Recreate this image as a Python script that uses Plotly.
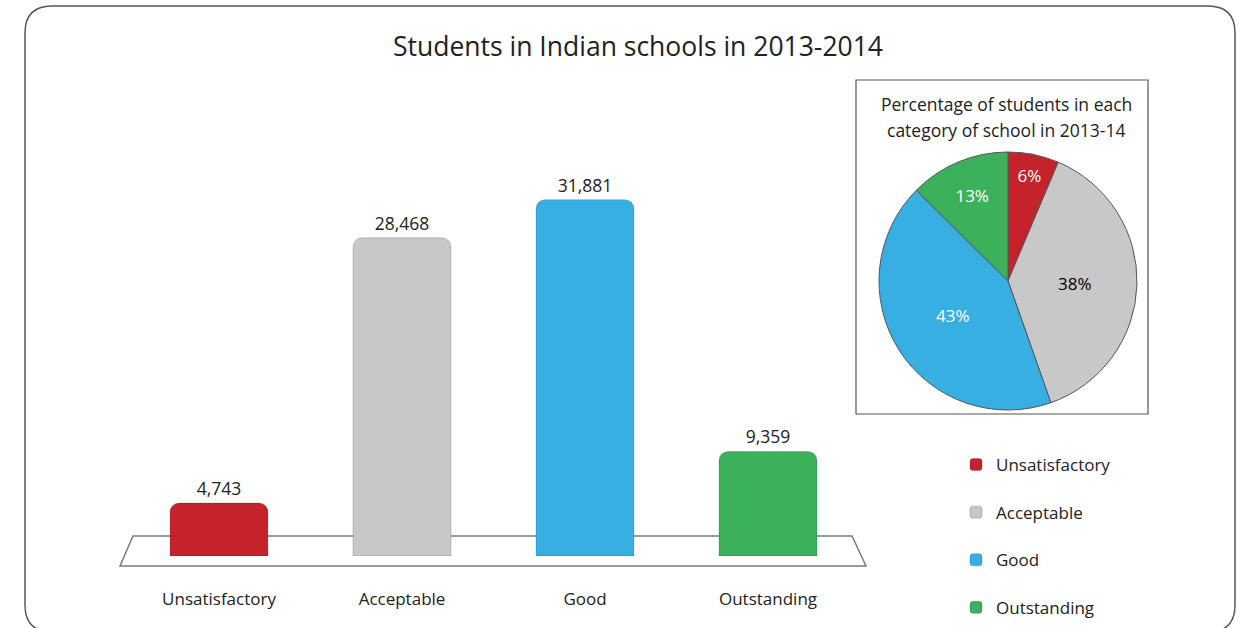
import plotly.graph_objects as go

categories = ["Unsatisfactory", "Acceptable", "Good", "Outstanding"]
students = [4743, 28468, 31881, 9359]
colors = ["#c4232b", "#c8c8c8", "#37afe3", "#3cb15c"]
pie_text_colors = ["white", "black", "white", "white"]
title_text = "Students in Indian schools in 2013-2014"
pie_title_lines = ["Percentage of students in each", "category of school in 2013-14"]

FONT = "Open Sans, Noto Sans, sans-serif"
W, H = 1243, 628

def px(x):
    return x / W

def py(y):
    return 1 - y / H

fig = go.Figure()

for cat, val, col in zip(categories, students, colors):
    fig.add_trace(go.Bar(
        x=[cat], y=[val], name=cat,
        marker=dict(color=col, cornerradius=9,
                    line=dict(color="rgba(0,0,0,0.18)", width=1)),
        width=0.535,
        text=[f"{val:,}"], textposition="outside",
        textfont=dict(family=FONT, size=17.5, color="#222"),
        cliponaxis=False,
        legendgroup=cat, showlegend=True,
        xaxis="x", yaxis="y",
        hoverinfo="x+y",
    ))

fig.add_trace(go.Pie(
    labels=categories, values=students,
    marker=dict(colors=colors, line=dict(color="#555", width=1)),
    sort=False, direction="clockwise", rotation=0,
    texttemplate="%{percent:.0%}", textposition="inside",
    insidetextorientation="horizontal",
    textfont=dict(family=FONT, size=17, color=pie_text_colors),
    domain=dict(x=[px(879), px(1137)], y=[py(410), py(152)]),
    showlegend=False,
))

shapes = []
# outer rounded frame
r = 27
x0, x1, y0, y1 = 25, 1235, 6, 632
path = (f"M {px(x0 + r)},{py(y0)} L {px(x1 - r)},{py(y0)} "
        f"Q {px(x1)},{py(y0)} {px(x1)},{py(y0 + r)} "
        f"L {px(x1)},{py(y1 - r)} Q {px(x1)},{py(y1)} {px(x1 - r)},{py(y1)} "
        f"L {px(x0 + r)},{py(y1)} Q {px(x0)},{py(y1)} {px(x0)},{py(y1 - r)} "
        f"L {px(x0)},{py(y0 + r)} Q {px(x0)},{py(y0)} {px(x0 + r)},{py(y0)} Z")
shapes.append(dict(type="path", xref="paper", yref="paper", path=path,
                   line=dict(color="#555", width=1.5), layer="below"))
# floor plane under bars
floor = (f"M {px(133)},{py(536)} L {px(852)},{py(536)} L {px(866)},{py(566)} "
         f"L {px(120)},{py(566)} Z")
shapes.append(dict(type="path", xref="paper", yref="paper", path=floor,
                   line=dict(color="#7a7a7a", width=1.5), fillcolor="white",
                   layer="below"))
# pie inset box
shapes.append(dict(type="rect", xref="paper", yref="paper",
                   x0=px(856), x1=px(1148), y0=py(414), y1=py(80),
                   line=dict(color="#555", width=1.2), layer="below"))

annotations = [
    dict(text=title_text, x=px(638), y=py(46), xref="paper", yref="paper",
         showarrow=False, font=dict(family=FONT, size=26.5, color="#222"),
         xanchor="center", yanchor="middle"),
]
for line, yy in zip(pie_title_lines, [104, 130]):
    annotations.append(dict(text=line, x=px(1006), y=py(yy), xref="paper",
                            yref="paper", showarrow=False,
                            font=dict(family=FONT, size=17.5, color="#222"),
                            xanchor="center", yanchor="middle"))

fig.update_layout(
    width=W, height=H,
    margin=dict(l=0, r=0, t=0, b=0, autoexpand=False),
    paper_bgcolor="white", plot_bgcolor="rgba(0,0,0,0)",
    barmode="overlay",
    font=dict(family=FONT, color="#222"),
    xaxis=dict(domain=[px(127.5), px(859.5)], type="category",
               categoryorder="array", categoryarray=categories,
               showgrid=False, zeroline=False, showline=False,
               ticks="", ticklabelstandoff=31,
               tickfont=dict(family=FONT, size=17, color="#222")),
    yaxis=dict(domain=[py(556), py(109)], range=[0, 40000],
               visible=False, showgrid=False),
    legend=dict(x=px(956), y=py(447), xanchor="left", yanchor="top",
                font=dict(family=FONT, size=17, color="#222"),
                tracegroupgap=22.5, bgcolor="rgba(0,0,0,0)",
                itemwidth=30),
    shapes=shapes,
    annotations=annotations,
)

fig.write_html("out.html")
